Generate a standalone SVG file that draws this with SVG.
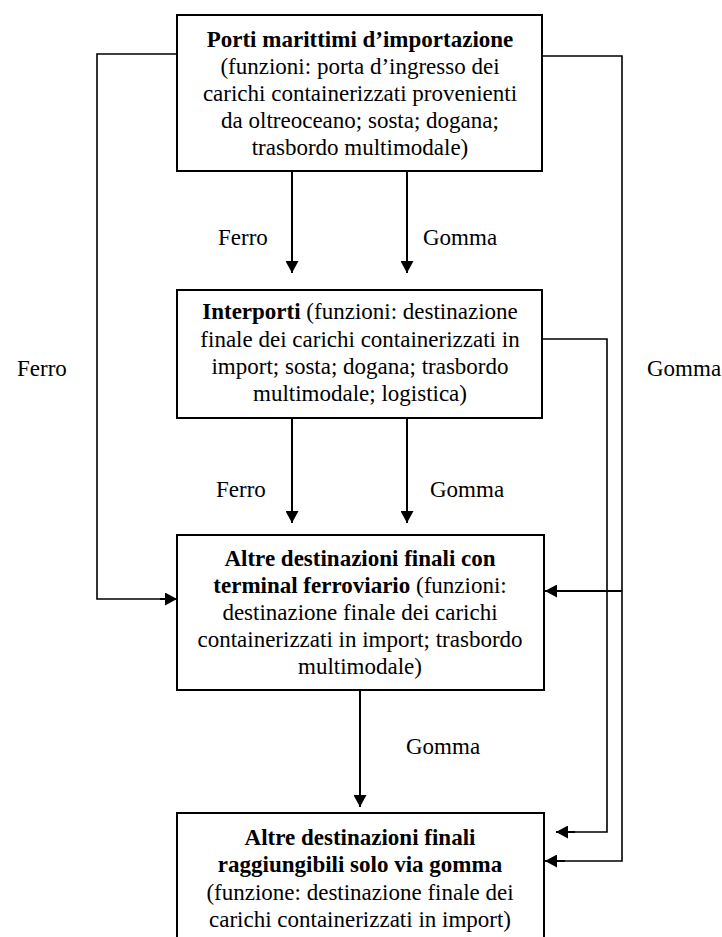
<svg xmlns="http://www.w3.org/2000/svg" width="722" height="937" viewBox="0 0 722 937">
<style>
.box{fill:#fff;stroke:#000;stroke-width:2}
.t{font-family:"Liberation Serif","Times New Roman",serif;font-size:23px;fill:#000;text-anchor:middle}
.l{font-family:"Liberation Serif","Times New Roman",serif;font-size:23px;fill:#000}
.b{font-weight:bold}
.c{fill:none;stroke:#000;stroke-width:1.6}
.a{fill:none;stroke:#000;stroke-width:2;marker-end:url(#ah)}
</style>
<defs>
<marker id="ah" markerUnits="userSpaceOnUse" markerWidth="13" markerHeight="13" refX="12" refY="6.5" orient="auto">
<path d="M0,0 L12,6.5 L0,13 z" fill="#000"/>
</marker>
</defs>
<rect width="722" height="937" fill="#fff"/>
<g id="connectors">
<polyline class="c" points="177,54 97,54 97,599 165,599"/>
<line class="a" x1="160" y1="599" x2="177" y2="599"/>
<polyline class="c" points="542,56 622,56 622,861 560,861"/>
<line class="a" x1="565" y1="861" x2="545" y2="861"/>
<line class="a" x1="622" y1="591" x2="545" y2="591"/>
<polyline class="c" points="542,339 607,339 607,832 570,832"/>
<line class="a" x1="575" y1="832" x2="556" y2="832"/>
<line class="a" x1="292" y1="171" x2="292" y2="273"/>
<line class="a" x1="407" y1="171" x2="407" y2="273"/>
<line class="a" x1="292" y1="418" x2="292" y2="523"/>
<line class="a" x1="407" y1="418" x2="407" y2="523"/>
<line class="a" x1="360" y1="690" x2="360" y2="807"/>
<text class="l" x="218" y="245">Ferro</text>
<text class="l" x="423" y="245">Gomma</text>
<text class="l" x="216" y="497">Ferro</text>
<text class="l" x="430" y="497">Gomma</text>
<text class="l" x="406" y="754">Gomma</text>
<text class="l" x="17" y="376">Ferro</text>
<text class="l" x="647" y="376">Gomma</text>
</g>
<g id="porti">
<rect class="box" x="177" y="15" width="365" height="156"/>
<text class="t" x="360" y="47"><tspan class="b">Porti marittimi d’importazione</tspan></text>
<text class="t" x="360" y="74">(funzioni: porta d’ingresso dei</text>
<text class="t" x="360" y="101">carichi containerizzati provenienti</text>
<text class="t" x="360" y="128">da oltreoceano; sosta; dogana;</text>
<text class="t" x="360" y="155">trasbordo multimodale)</text>
</g>
<g id="interporti">
<rect class="box" x="177" y="290" width="365" height="128"/>
<text class="t" x="360" y="319"><tspan class="b">Interporti</tspan> (funzioni: destinazione</text>
<text class="t" x="360" y="347">finale dei carichi containerizzati in</text>
<text class="t" x="360" y="374">import; sosta; dogana; trasbordo</text>
<text class="t" x="360" y="401">multimodale; logistica)</text>
</g>
<g id="terminal">
<rect class="box" x="177" y="535" width="367" height="155"/>
<text class="t" x="360" y="566"><tspan class="b">Altre destinazioni finali con</tspan></text>
<text class="t" x="360" y="593"><tspan class="b">terminal ferroviario</tspan> (funzioni:</text>
<text class="t" x="360" y="620">destinazione finale dei carichi</text>
<text class="t" x="360" y="647">containerizzati in import; trasbordo</text>
<text class="t" x="360" y="674">multimodale)</text>
</g>
<g id="gomma">
<rect class="box" x="177" y="813" width="367" height="140"/>
<text class="t" x="360" y="845"><tspan class="b">Altre destinazioni finali</tspan></text>
<text class="t" x="360" y="872"><tspan class="b">raggiungibili solo via gomma</tspan></text>
<text class="t" x="360" y="900">(funzione: destinazione finale dei</text>
<text class="t" x="360" y="927">carichi containerizzati in import)</text>
</g>
</svg>
